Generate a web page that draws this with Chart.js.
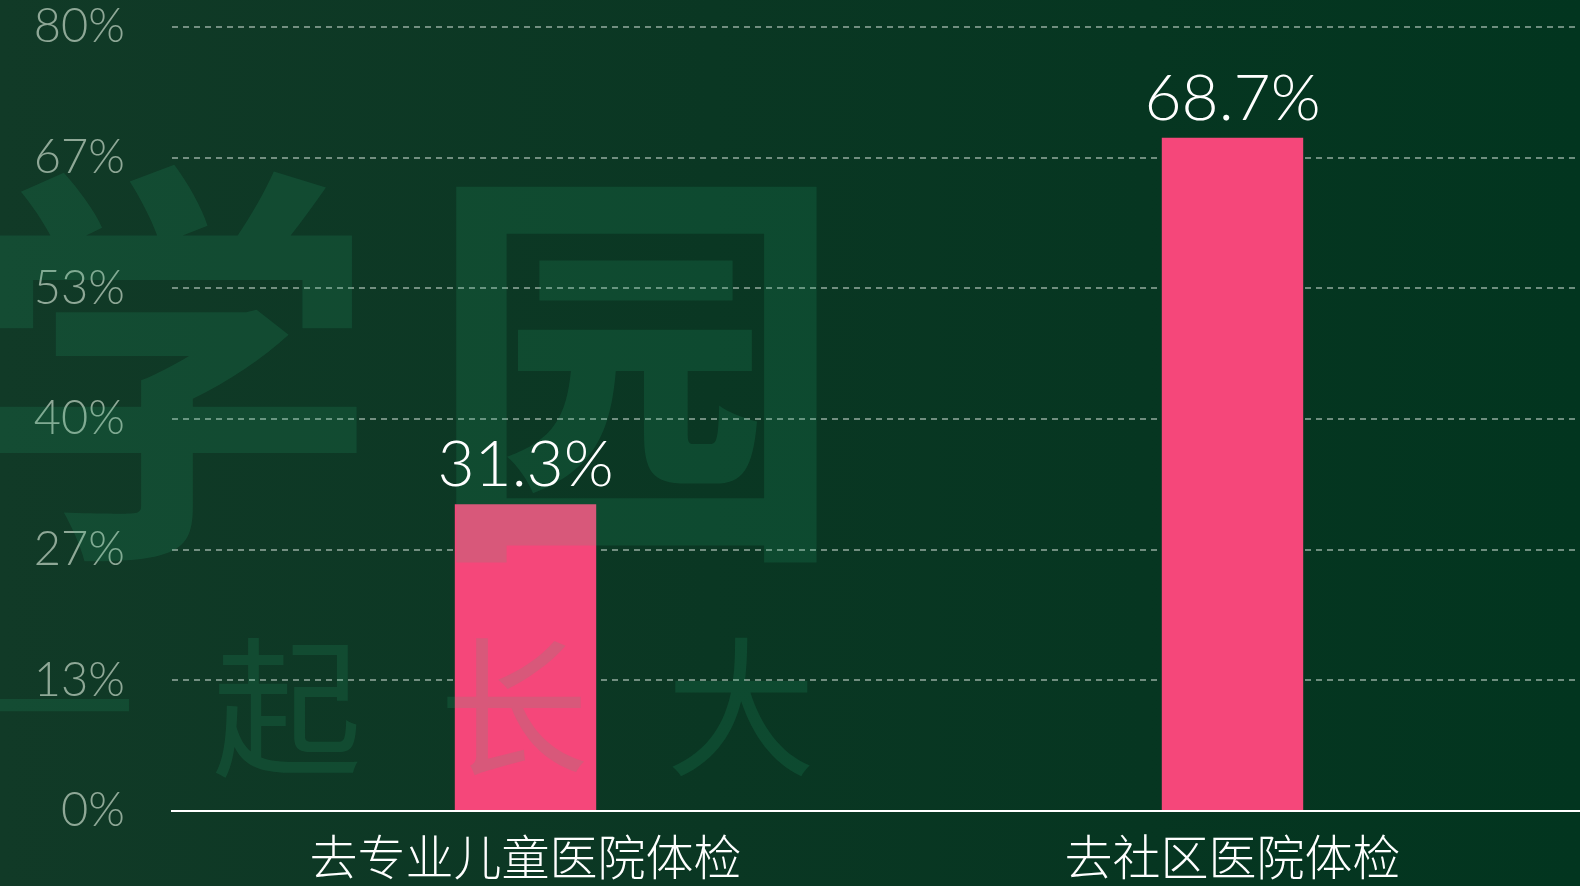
<!DOCTYPE html>
<html>
<head>
<meta charset="UTF-8" />
<script src="https://cdn.jsdelivr.net/npm/chart.js@4"></script>
<style>
  html, body { margin: 0; padding: 0; overflow: hidden; }
  body {
    width: 1580px; height: 886px;
    background: linear-gradient(90deg, #113a27 0%, #0a3723 45%, #02351f 100%);
  }
  #wrap { position: absolute; left: 0; top: 0; width: 1586px; height: 886px; }
</style>
</head>
<body>
<div id="wrap"><canvas id="chart"></canvas></div>
<script>
  // data
  const categories = ['去专业儿童医院体检', '去社区医院体检'];
  const shares = [31.3, 68.7];
  const yTickValues = [0, 13.33, 26.67, 40, 53.33, 66.67, 80];
  const yTickLabels = ['0%', '13%', '27%', '40%', '53%', '67%', '80%'];

  const numFont = 'Lato, Roboto, "Liberation Sans", sans-serif';
  const cjkFont = '"Noto Sans CJK SC", sans-serif';

  // watermark + value labels on top of the bars
  const decor = {
    id: 'decor',
    afterDatasetsDraw(chart) {
      const ctx = chart.ctx;
      ctx.save();
      ctx.fillStyle = 'rgba(40,190,130,0.14)';
      ctx.textAlign = 'center';
      ctx.textBaseline = 'middle';
      ctx.font = '700 420px ' + cjkFont;
      ctx.fillText('学', 168, 366);
      ctx.fillText('园', 636, 366);
      ctx.font = '400 150px ' + cjkFont;
      ['一', '起', '长', '大'].forEach((c, i) => ctx.fillText(c, 60 + i * 227, 707));

      ctx.fillStyle = '#ffffff';
      ctx.textBaseline = 'alphabetic';
      ctx.font = '300 64px ' + numFont;
      const meta = chart.getDatasetMeta(0);
      meta.data.forEach((bar, i) => {
        ctx.fillText(shares[i].toFixed(1) + '%', bar.x, bar.y - 18);
      });
      ctx.restore();
    }
  };

  new Chart(document.getElementById('chart'), {
    type: 'bar',
    data: {
      labels: categories,
      datasets: [{
        data: shares,
        backgroundColor: '#f5477a',
        barPercentage: 0.2,
        categoryPercentage: 1
      }]
    },
    options: {
      responsive: true,
      maintainAspectRatio: false,
      animation: false,
      layout: { padding: { top: 27, left: 0, right: 0, bottom: 0 } },
      plugins: { legend: { display: false }, tooltip: { enabled: false } },
      scales: {
        x: {
          afterFit: (scale) => { scale.height = 75; },
          grid: { display: false, drawTicks: false },
          border: { display: true, color: '#ffffff', width: 2 },
          ticks: {
            color: '#ffffff',
            padding: 35,
            font: { family: cjkFont, size: 48, weight: 300, lineHeight: 0.46 }
          }
        },
        y: {
          min: 0,
          max: 80,
          afterBuildTicks: (scale) => { scale.ticks = yTickValues.map(v => ({ value: v })); },
          afterFit: (scale) => {
            scale.width = 172;
            scale.paddingTop = 0;
            scale.paddingBottom = 0;
          },
          grid: {
            drawTicks: false,
            color: (c) => c.tick && c.tick.value === 0 ? 'rgba(0,0,0,0)' : 'rgba(200,215,205,0.55)',
            lineWidth: 2
          },
          border: { display: false, dash: [6, 5] },
          ticks: {
            color: '#8fa897',
            padding: 47,
            font: { family: numFont, size: 47, weight: 300 },
            callback: (v, i) => yTickLabels[i]
          }
        }
      }
    },
    plugins: [decor]
  });
</script>
</body>
</html>
